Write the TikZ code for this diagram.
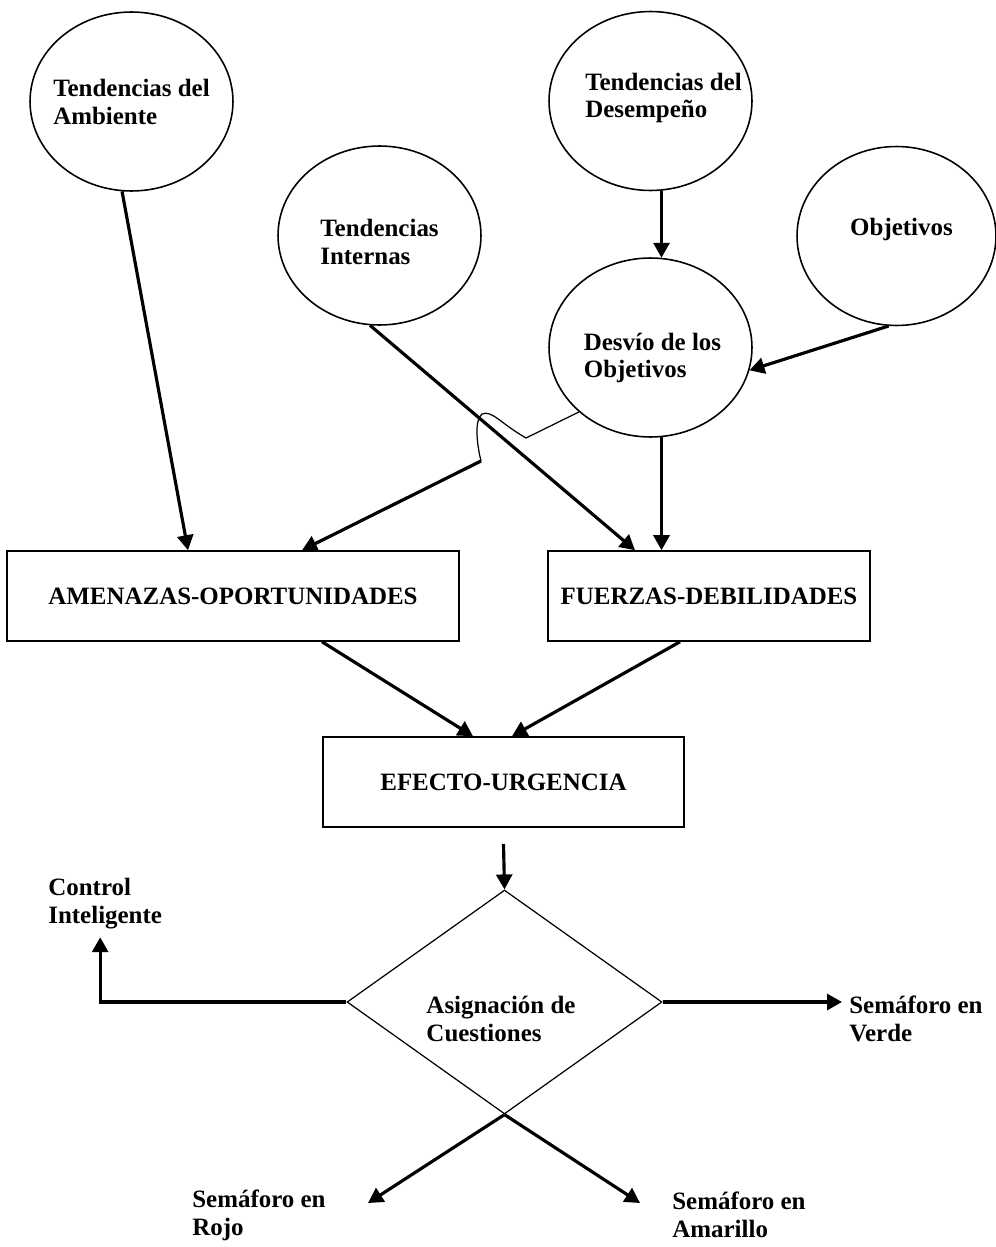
\documentclass[tikz,border=0pt]{standalone}
\usepackage{fontspec}
\setmainfont{Liberation Serif}
\usetikzlibrary{arrows.meta,shapes.geometric,calc,positioning}

\begin{document}
\begin{tikzpicture}[x=0.02cm,y=-0.02cm,>={Triangle[length=0.3cm,width=0.32cm]},
  every node/.style={font=\fontsize{14.2pt}{15.9pt}\selectfont\bfseries},
  burbuja/.style={draw,ellipse,line width=0.9pt,minimum width=4.06cm,minimum height=3.58cm,inner sep=0pt},
  caja/.style={draw,rectangle,line width=0.9pt,minimum height=1.8cm,inner sep=0pt},
  rotulo/.style={align=left,inner sep=0pt},
  flecha/.style={->,line width=1.8pt},
  fino/.style={line width=0.7pt}]
	\useasboundingbox (0,0) rectangle (995,1247);

	% tendencias y objetivos
	\node[burbuja,label={[rotulo]center:{Tendencias del\\Ambiente}}] (tAmb) at (131.5,101.5) {};
	\node[burbuja,label={[rotulo,yshift=-0.13cm]center:{Tendencias\\Internas}}] (tInt) at (379.5,235.5) {};
	\node[burbuja,label={[rotulo,xshift=0.26cm,yshift=0.06cm]center:{Tendencias del\\Desempeño}}] (tDes) at (650.5,101) {};
	\node[burbuja,minimum width=3.98cm,label={[rotulo,xshift=0.1cm,yshift=0.14cm]center:{Objetivos}}] (obj) at (896.5,236) {};
	\node[burbuja,label={[rotulo,xshift=0.04cm,yshift=-0.21cm]center:{Desvío de los\\Objetivos}}] (desv) at (650.5,347.5) {};

	% cajas
	\node[caja,minimum width=9.04cm] (amen) at (233,596) {AMENAZAS-OPORTUNIDADES};
	\node[caja,minimum width=6.44cm] (fuer) at (709,596) {FUERZAS-DEBILIDADES};
	\node[caja,minimum width=7.22cm] (efe) at (503.5,782) {EFECTO-URGENCIA};

	% decision
	\node[draw,diamond,fino,minimum width=6.3cm,minimum height=4.48cm,inner sep=0pt,
		label={[rotulo,xshift=-0.07cm,yshift=-0.34cm]center:{Asignación de\\Cuestiones}}] (asig) at (504.5,1002) {};
	\node[rotulo,anchor=west] (ctrl) at (48,904) {Control\\Inteligente};
	\node[rotulo,anchor=west] (verde) at (849,1019) {Semáforo en\\Verde};
	\node[rotulo,anchor=west] (rojo) at (192,1215) {Semáforo en\\Rojo};
	\node[rotulo,anchor=west] (amar) at (672,1215) {Semáforo en\\Amarillo};
	\coordinate (pRojo) at (368,1203);
	\coordinate (pAmar) at (640,1203);
	\coordinate (codoA) at (526,438);
	\coordinate (codoB) at (481,461);

	\path[flecha]
	(tAmb.264) edge ($(amen.north)+(-45,0)$)
	(tInt.264) edge ($(fuer.north)+(-74,0)$)
	(tDes.277) edge (desv.83)
	(obj.265) edge (desv.347)
	(desv.277) edge (desv.277 |- fuer.north)
	($(amen.south)+(89,0)$) edge ($(efe.north)+(-30.5,0)$)
	($(fuer.south)+(-29,0)$) edge ($(efe.north)+(8.5,0)$)
	([yshift=-0.32cm]efe.south) edge (asig.north)
	(asig.south) edge (pRojo)
	(asig.south) edge (pAmar)
	;
	\draw[fino] (desv.222) -- (codoA) .. controls (500,423) and (492,410) .. (482,414)
		.. controls (474,420) and (477,445) .. (codoB);
	\draw[flecha] (codoB) -- ($(amen.north)+(69,0)$);
	\draw[flecha,shorten >=0.15cm] (asig.west) -| ([xshift=-0.1cm]ctrl.south);
	\draw[flecha,shorten >=0.14cm] (asig.east) -- (asig.east -| verde.west);
\end{tikzpicture}
\end{document}
